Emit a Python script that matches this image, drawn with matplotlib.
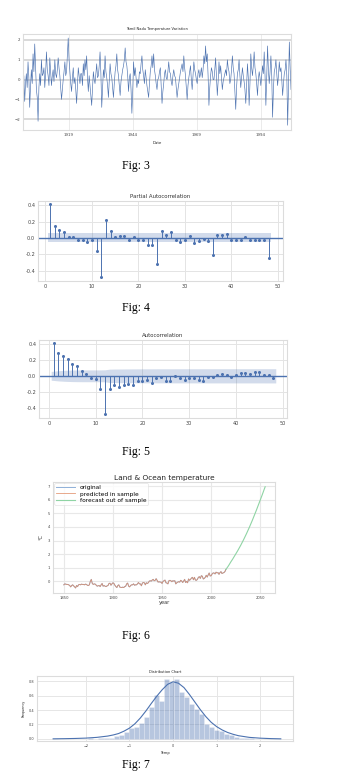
import numpy as np
import matplotlib
matplotlib.use('Agg')
import matplotlib.pyplot as plt

# ---------------- data ----------------
# Fig 3: Tamil Nadu temperature variation (left to right)
tn_temp = [
    -0.5, 0.2, -1.1, -0.2, 0.3, -0.4, 0.9, 0.1, -1.4, -0.3, 0.5, -0.2, 1.3, 0.4, 1.8, 0.6, -0.5, -0.9, -2.1, -0.4,
    0.3, -0.3, 1.0, 0.2, 0.3, 0.6, -0.4, 0.3, 1.4, 0.5, 0.2, -0.3, 1.1, 0.4, -0.3, 0.2, 0.5, -0.1, 1.0, 0.3,
    0.1, 0.5, 1.1, 0.6, 0.2, -0.4, -1.0, -0.5, 0.0, 0.4, 0.9, 0.2, 0.4, 1.2, 2.1, 1.0, 0.4, -0.2, -0.6, 0.1,
    0.6, -0.2, 0.1, -0.5, -1.2, -0.3, 0.6, 0.2, -0.2, 0.3, 0.3, -0.3, 0.8, 0.2, 1.0, 0.5, 1.2, 0.1, -0.6, 0.2,
    -0.3, -0.8, -1.3, -0.4, 0.4, 0.0, -0.2, 0.3, 0.8, 0.1, 0.2, 0.7, 1.4, 0.3, -1.4, -0.5, 0.5, 0.1, 1.2, 0.4,
    0.1, -0.3, -0.9, -0.1, 0.8, 0.3, 0.1, -0.4, -0.9, -0.2, 0.4, 0.7, 1.3, 0.5, 0.2, -0.3, -0.8, -0.1, 0.2, 0.5,
    0.7, 1.0, 1.6, 0.9, 0.7, 0.2, -0.6, 0.1, 0.3, -0.5, -1.7, -0.6, 0.9, 0.2, 0.6, 0.1, -0.4, 0.0, -0.2, 0.4,
    0.3, 0.8, 1.2, 0.5, 0.2, -0.2, 0.5, 0.1, -0.3, -0.6, -0.9, -0.2, 0.4, 0.7, 1.2, 0.6,
    1.3, 0.5, 0.2, -0.2, -0.5, 0.0, 0.1, 0.4, 0.6, -0.3, -1.2, -0.6, -0.2, 0.3, 0.5, 0.1, 0.0, 0.4, 0.9, 0.4,
    0.3, -0.1, -0.3, 0.2, 0.5, 0.2, 0.1, -0.4, -0.9, -0.5, -0.2, 0.1, 0.4, 0.6, 0.8, 0.4, 1.2, 0.6, 0.2, -0.4,
    -1.0, -0.3, 0.1, 0.4, 0.7, 0.0, -0.5, 0.2, 0.9, 0.5, 0.3, 0.0, -0.2, 0.3, 0.5, 0.1, 0.3, 0.6, 0.1, 0.5,
    1.2, 0.8, 1.7, 0.9, 1.3, 0.2, -1.3, -0.4, 0.2, 0.6, 0.4, 0.0, 0.0, 0.5, 1.1, 0.2, -0.8, -0.1, 0.9, 0.3,
    0.7, 0.1, -0.5, -0.1, 0.1, 0.3, 0.5, 0.2, 1.0, 0.6, 0.4, -0.2, 0.0, 0.5, 1.2, 0.6, 0.3, -0.6, -1.5, -0.4,
    0.3, 0.5, 1.0, 0.2, -0.4, 0.1, 0.6, 0.2, -0.1, -0.5, -1.2, -0.3, 0.8, 0.1, -1.3, -0.2, 1.3, 0.6, 0.2, 0.7,
    1.4, 0.6, 0.3, -0.2, -0.8, 0.0, 0.4, 0.1, -0.3, 0.2, 0.7, 0.3, 1.4, 0.2, -1.3, 0.1, 1.7, 0.5, -0.2, 0.4,
    1.2, 0.2, -1.9, -0.5, 0.4, 0.6, 1.0, 0.3, -0.3, 0.2, 0.9, 0.4, 0.6, 0.0, -0.8, -0.2, 0.3, 0.5, 1.0, 0.2,
    -2.3, -0.4, 1.9, 0.6, -0.5,
]
tn_start, tn_end = 1901.0, 2005.8
tn_ticks = [1919, 1944, 1969, 1994]

# Fig 4: partial autocorrelation, lags 1..48
pacf_vals = [0.41, 0.15, 0.10, 0.07, 0.01, 0.01, -0.03, -0.03, -0.05, -0.02,
             -0.16, -0.48, 0.22, 0.09, 0.01, 0.02, 0.02, -0.03, 0.01, -0.02,
             -0.02, -0.08, -0.09, -0.32, 0.08, 0.04, 0.07, -0.02, -0.05, -0.02,
             0.02, -0.06, -0.04, -0.01, -0.04, -0.21, 0.03, 0.03, 0.05, -0.02,
             -0.02, -0.02, 0.01, -0.02, -0.02, -0.03, -0.03, -0.24]

# Fig 5: autocorrelation, lags 1..48
acf_vals = [0.41, 0.29, 0.25, 0.21, 0.15, 0.12, 0.06, 0.02, -0.03, -0.04,
            -0.16, -0.48, -0.17, -0.12, -0.14, -0.12, -0.10, -0.11, -0.07, -0.07,
            -0.05, -0.09, -0.03, -0.02, -0.07, -0.07, 0.00, -0.03, -0.05, -0.03,
            -0.03, -0.05, -0.06, -0.01, -0.01, 0.01, 0.02, 0.01, -0.02, 0.01,
            0.04, 0.03, 0.02, 0.05, 0.05, 0.01, 0.01, -0.03]
n_obs = 1260

# Fig 6: land & ocean temperature, annual 1850..2015
lo_start = 1850
lo_temp = [
    -0.25, -0.18, -0.20, -0.22, -0.22, -0.25, -0.30, -0.40, -0.30, -0.25,
    -0.32, -0.40, -0.48, -0.30, -0.38, -0.25, -0.22, -0.25, -0.20, -0.22,
    -0.22, -0.25, -0.20, -0.22, -0.28, -0.30, -0.25, 0.00, 0.15, -0.15,
    -0.22, -0.18, -0.20, -0.28, -0.35, -0.32, -0.30, -0.38, -0.25, -0.15,
    -0.35, -0.30, -0.35, -0.38, -0.33, -0.30, -0.15, -0.13, -0.28, -0.18,
    -0.10, -0.15, -0.28, -0.38, -0.45, -0.30, -0.25, -0.42, -0.43, -0.45,
    -0.42, -0.45, -0.38, -0.35, -0.18, -0.12, -0.35, -0.40, -0.30, -0.25,
    -0.25, -0.18, -0.28, -0.25, -0.25, -0.18, -0.08, -0.18, -0.18, -0.32,
    -0.12, -0.08, -0.10, -0.25, -0.10, -0.15, -0.10, 0.02, 0.05, 0.02,
    0.10, 0.15, 0.05, 0.08, 0.20, 0.08, -0.05, -0.02, -0.05, -0.05,
    -0.15, 0.00, 0.05, 0.10, -0.10, -0.12, -0.18, 0.05, 0.08, 0.05,
    -0.02, 0.05, 0.03, 0.05, -0.18, -0.10, -0.05, -0.02, -0.05, 0.08,
    0.03, -0.08, 0.02, 0.15, -0.08, 0.00, -0.10, 0.18, 0.08, 0.15,
    0.25, 0.30, 0.12, 0.30, 0.10, 0.08, 0.15, 0.30, 0.35, 0.22,
    0.42, 0.38, 0.18, 0.22, 0.30, 0.45, 0.32, 0.48, 0.62, 0.40,
    0.42, 0.55, 0.62, 0.62, 0.55, 0.68, 0.62, 0.65, 0.52, 0.65,
    0.72, 0.58, 0.62, 0.65, 0.72, 0.88,
]
fc_start = 2015
fc_temp = [0.88, 0.98, 1.08, 1.19, 1.31, 1.43, 1.54, 1.65, 1.77, 1.89,
           2.01, 2.13, 2.25, 2.38, 2.51, 2.64, 2.78, 2.92, 3.06, 3.21,
           3.36, 3.51, 3.67, 3.83, 3.99, 4.16, 4.33, 4.50, 4.68, 4.86,
           5.04, 5.22, 5.41, 5.60, 5.79, 5.98, 6.17, 6.36, 6.56, 6.76, 6.95]

# Fig 7: distribution chart (histogram bins + density curve)
hist_edges = [-2.63, -2.515, -2.4, -2.285, -2.17, -2.055, -1.94, -1.825, -1.71, -1.595,
              -1.48, -1.365, -1.25, -1.135, -1.02, -0.905, -0.79, -0.675, -0.56, -0.445,
              -0.33, -0.215, -0.10, 0.015, 0.13, 0.245, 0.36, 0.475, 0.59, 0.705,
              0.82, 0.935, 1.05, 1.165, 1.28, 1.395, 1.51, 1.625, 1.74, 1.855,
              1.97, 2.085]
hist_dens = [0.003, 0.0, 0.003, 0.0, 0.005, 0.003, 0.007, 0.005, 0.01, 0.012,
             0.02, 0.04, 0.06, 0.09, 0.15, 0.16, 0.22, 0.30, 0.44, 0.61,
             0.52, 0.83, 0.79, 0.83, 0.65, 0.58, 0.49, 0.42, 0.34, 0.20,
             0.17, 0.13, 0.11, 0.07, 0.05, 0.03, 0.02, 0.01, 0.007, 0.005,
             0.003]
kde_x = [-2.75, -2.5, -2.25, -2.0, -1.75, -1.5, -1.375, -1.25, -1.125, -1.0,
         -0.875, -0.75, -0.625, -0.5, -0.375, -0.25, -0.125, 0.0, 0.125, 0.25,
         0.375, 0.5, 0.625, 0.75, 0.875, 1.0, 1.125, 1.25, 1.375, 1.5,
         1.75, 2.0, 2.25, 2.47]
kde_y = [0.002, 0.004, 0.007, 0.012, 0.022, 0.04, 0.055, 0.075, 0.108, 0.15,
         0.21, 0.29, 0.385, 0.49, 0.59, 0.68, 0.755, 0.79, 0.77, 0.71,
         0.615, 0.51, 0.405, 0.31, 0.23, 0.17, 0.125, 0.09, 0.065, 0.045,
         0.022, 0.011, 0.005, 0.002]

captions = ['Fig: 3', 'Fig: 4', 'Fig: 5', 'Fig: 6', 'Fig: 7']

# ---------------- drawing ----------------
W, H = 356, 777
fig = plt.figure(figsize=(W / 100, H / 100), dpi=100)
fig.patch.set_facecolor('white')
BLUE = '#4c72b0'


def add_ax(x0, y0, x1, y1):
    return fig.add_axes([x0 / W, 1 - y1 / H, (x1 - x0) / W, (y1 - y0) / H])


def style(ax, fs, spine='#dcdcdc', grid='#e4e4e4', glw=0.7, tcolor='#444444'):
    ax.set_facecolor('white')
    for s in ax.spines.values():
        s.set_color(spine)
        s.set_linewidth(0.8)
    ax.grid(True, color=grid, lw=glw)
    ax.set_axisbelow(True)
    ax.tick_params(length=0, labelsize=fs, colors=tcolor, pad=2)


# Fig 3
ax1 = add_ax(23, 34, 291, 130)
style(ax1, 2.8, grid='#e8e8e8', glw=0.6)
ax1.yaxis.grid(True, color='#cfcfcf', lw=1.1)
yrs = np.linspace(tn_start, tn_end, len(tn_temp))
ax1.plot(yrs, tn_temp, color=BLUE, lw=0.45)
ax1.set_xlim(tn_start, tn_end)
ax1.set_ylim(-2.54, 2.3)
ax1.set_xticks(tn_ticks)
ax1.set_yticks([-2, -1, 0, 1, 2])
ax1.set_title('Tamil Nadu Temperature Variation', fontsize=2.6, pad=3, color='#222222')
ax1.set_xlabel('Date', fontsize=2.8, labelpad=3, color='#222222')

# Fig 4: PACF
lags = np.arange(1, len(pacf_vals) + 1)
ax2 = add_ax(38, 201, 283, 281)
style(ax2, 3.6)
conf = 1.96 / np.sqrt(n_obs)
ax2.fill_between(np.r_[0.5, lags[1:-1], 48.5], -conf, conf, color=BLUE, alpha=0.25, lw=0)
ax2.axhline(0, color=BLUE, lw=1.0)
ax2.vlines(lags, 0, pacf_vals, color=BLUE, lw=0.7)
ax2.plot(lags, pacf_vals, 'o', color=BLUE, ms=2.2, mew=0)
ax2.set_xlim(-1.6, 51.1)
ax2.set_ylim(-0.524, 0.45)
ax2.set_xticks([0, 10, 20, 30, 40, 50])
ax2.set_yticks([-0.4, -0.2, 0.0, 0.2, 0.4])
ax2.set_yticklabels(['-0.4', '-0.2', '0.0', '0.2', '0.4'])
ax2.set_title('Partial Autocorrelation', fontsize=3.9, pad=2.5, color='#333333')

# Fig 5: ACF
ax3 = add_ax(39, 340, 287, 418)
style(ax3, 3.6)
acf_arr = np.array(acf_vals)
cum = np.r_[0.0, np.cumsum(acf_arr[:-1] ** 2)]
band = 1.96 * np.sqrt((1 + 2 * cum) / n_obs)
ax3.fill_between(np.r_[0.5, lags[1:-1], 48.5], -band, band, color=BLUE, alpha=0.25, lw=0)
ax3.axhline(0, color=BLUE, lw=1.0)
ax3.vlines(lags, 0, acf_vals, color=BLUE, lw=0.7)
ax3.plot(lags, acf_vals, 'o', color=BLUE, ms=2.2, mew=0)
ax3.set_xlim(-2.1, 50.9)
ax3.set_ylim(-0.53, 0.45)
ax3.set_xticks([0, 10, 20, 30, 40, 50])
ax3.set_yticks([-0.4, -0.2, 0.0, 0.2, 0.4])
ax3.set_yticklabels(['-0.4', '-0.2', '0.0', '0.2', '0.4'])
ax3.set_title('Autocorrelation', fontsize=3.9, pad=2.5, color='#333333')

# Fig 6
ax4 = add_ax(53, 482, 275, 593)
style(ax4, 2.7, grid='#e8e8e8', glw=0.8)
lo_years = np.arange(lo_start, lo_start + len(lo_temp))
fc_years = np.arange(fc_start, fc_start + len(fc_temp))
ax4.plot(lo_years, lo_temp, color='#8fb0d8', lw=0.7, label='original')
ax4.plot(lo_years, lo_temp, color='#e08a62', lw=0.6, alpha=0.85, label='predicted in sample')
ax4.plot(fc_years, fc_temp, color='#8fd4a4', lw=0.8, label='forecast out of sample')
ax4.set_xlim(1839, 2065)
ax4.set_ylim(-0.85, 7.3)
ax4.set_xticks([1850, 1900, 1950, 2000, 2050])
ax4.set_yticks(range(0, 8))
ax4.set_title('Land & Ocean temperature', fontsize=5.3, pad=1.5, color='#222222')
ax4.set_xlabel('year', fontsize=3.6, labelpad=0, color='#333333')
ax4.set_ylabel('°C', fontsize=3.6, labelpad=3, color='#333333')
leg = ax4.legend(loc='upper left', fontsize=4.2, frameon=True, handlelength=3.2,
                 borderpad=0.3, labelspacing=0.2, borderaxespad=0.25)
leg.get_frame().set_edgecolor('#dddddd')
leg.get_frame().set_linewidth(0.5)

# Fig 7
ax5 = add_ax(37, 676, 293, 741)
style(ax5, 2.5, grid='#e6e6e6', glw=0.7)
edges = np.array(hist_edges)
ax5.bar(edges[:-1], hist_dens, width=np.diff(edges), align='edge',
        color=BLUE, alpha=0.4, edgecolor='white', linewidth=0.4)
ax5.plot(kde_x, kde_y, color=BLUE, lw=0.8)
ax5.set_xlim(-3.12, 2.75)
ax5.set_ylim(-0.028, 0.87)
ax5.set_xticks([-2, -1, 0, 1, 2])
ax5.set_yticks([0.0, 0.2, 0.4, 0.6, 0.8])
ax5.set_title('Distribution Chart', fontsize=2.6, pad=2, color='#222222')
ax5.set_xlabel('Temp', fontsize=2.6, labelpad=2, color='#222222')
ax5.set_ylabel('Frequency', fontsize=2.4, labelpad=2, color='#222222')

# captions
cap_y = [166, 308, 452, 636, 765]
for txt, y in zip(captions, cap_y):
    fig.text(136 / W, 1 - y / H, txt, ha='center', va='center',
             family='Liberation Serif', fontsize=8.5, color='black')

fig.savefig('out.png', dpi=100, facecolor='white')
